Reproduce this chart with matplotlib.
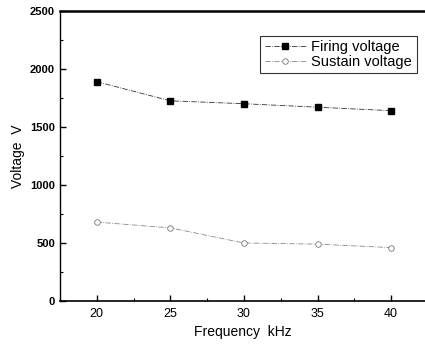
import numpy as np
import matplotlib
matplotlib.use("Agg")
import matplotlib.pyplot as plt
from matplotlib.ticker import MultipleLocator

plt.rcParams['font.family'] = ['Liberation Sans', 'DejaVu Sans']

# data
freq_khz = [20, 25, 30, 35, 40]
firing_v = [1890, 1725, 1700, 1670, 1640]
sustain_v = [680, 630, 500, 490, 460]

fig = plt.figure(figsize=(4.25, 3.47), dpi=100)
ax = fig.add_axes([0.141, 0.1326, 0.859, 0.836])

ax.plot(freq_khz, firing_v, color='#333333', lw=0.6, ls='-.',
        marker='s', ms=4, mfc='black', mec='black', label='Firing voltage')
ax.plot(freq_khz, sustain_v, color='#888888', lw=0.6, ls='-.',
        marker='o', ms=4, mfc='white', mec='#777777', mew=0.6,
        label='Sustain voltage')

ax.set_xlim(17.5, 42.3)
ax.set_ylim(0, 2500)
ax.xaxis.set_major_locator(MultipleLocator(5))
ax.xaxis.set_minor_locator(MultipleLocator(2.5))
ax.yaxis.set_major_locator(MultipleLocator(500))
ax.yaxis.set_minor_locator(MultipleLocator(250))
ax.tick_params(which='both', direction='in', top=False, right=False)
ax.tick_params(which='major', length=4, width=1)
ax.tick_params(which='minor', length=2, width=0.8)
ax.tick_params(axis='x', labelsize=9, pad=5)
ax.tick_params(axis='y', labelsize=8)
for lab in ax.get_yticklabels():
    lab.set_fontweight('bold')

ax.spines['right'].set_visible(False)
ax.spines['top'].set_linewidth(1.8)
ax.spines['left'].set_linewidth(1.0)
ax.spines['bottom'].set_linewidth(1.2)

ax.set_xlabel('Frequency  kHz', fontsize=10)
ax.set_ylabel('Voltage  V', fontsize=10)

leg = ax.legend(loc='upper right', bbox_to_anchor=(0.997, 0.94), fontsize=10.5,
                frameon=True, fancybox=False, edgecolor='black',
                handlelength=2.8, borderpad=0.3, labelspacing=0.05,
                handletextpad=0.4)
leg.get_frame().set_linewidth(0.8)

fig.savefig('out.png', dpi=100)
